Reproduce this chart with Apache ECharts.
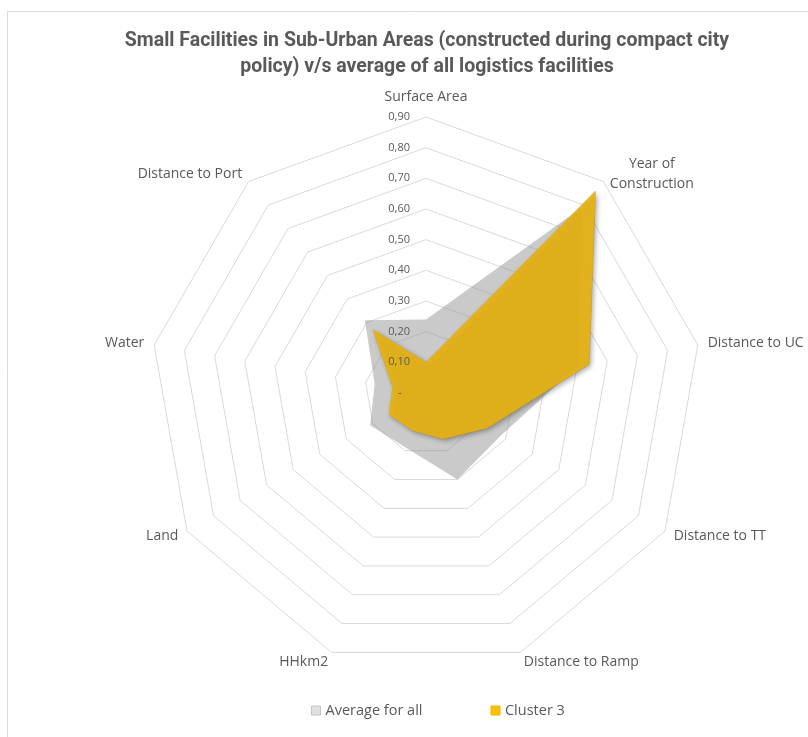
<!DOCTYPE html>
<html>
<head>
<meta charset="utf-8">
<script src="https://cdn.jsdelivr.net/npm/echarts@6/dist/echarts.min.js"></script>
<style>
  html, body { margin: 0; padding: 0; background: #fff; }
  #main { width: 808px; height: 737px; }
</style>
</head>
<body>
<div id="main"></div>
<script>
// indicators in the clockwise order of the original chart
let indicators = ["Surface Area", "Year of Construction", "Distance to UC", "Distance to TT",
  "Distance to Ramp", "HHkm2", "Land", "Water", "Distance to Port"];
let averageForAll = [0.24, 0.79, 0.5, 0.28, 0.3, 0.19, 0.21, 0.17, 0.31];
let cluster3 = [0.1, 0.86, 0.54, 0.23, 0.16, 0.13, 0.14, 0.11, 0.27];
let seriesNames = ["Average for all", "Cluster 3"];
let ticks = [0, 0.1, 0.2, 0.3, 0.4, 0.5, 0.6, 0.7, 0.8, 0.9];

// echarts draws radar axes counter-clockwise, so flip the order after the first one
let order = [0].concat(indicators.map((d, i) => i).slice(1).reverse());
let pick = (arr) => order.map((i) => arr[i]);

let txt = "#595959";
let font = "Open Sans";

let myChart = echarts.init(document.getElementById("main"), null, { renderer: "canvas" });

let option = {
  animation: false,
  title: {
    text: "Small Facilities in Sub-Urban Areas (constructed during compact city\npolicy) v/s average of all logistics facilities",
    left: 427,
    textAlign: "center",
    top: 28,
    padding: 0,
    textStyle: {
      color: txt,
      fontFamily: "Roboto",
      fontWeight: "bold",
      fontSize: 19.5,
      lineHeight: 26,
    },
  },
  graphic: [
    {
      type: "rect",
      shape: { x: 7.5, y: 11.5, width: 830, height: 760 },
      style: { fill: null, stroke: "#d9d9d9", lineWidth: 1 },
      silent: true,
    },
  ],
  legend: {
    left: 306,
    top: 698,
    itemWidth: 9,
    itemHeight: 9,
    itemGap: 68,
    textStyle: { color: txt, fontFamily: font, fontSize: 14.5 },
    data: [
      { name: seriesNames[0], icon: "rect", itemStyle: { color: "#e0e0e0", borderColor: "#c4c4c4", borderWidth: 1 } },
      { name: seriesNames[1], icon: "rect", itemStyle: { color: "#ffc000", borderColor: "#f0b400", borderWidth: 1 } },
    ],
  },
  // tick labels of the first (top) axis
  grid: { left: 426, top: 117, height: 276, width: 10 },
  xAxis: { show: false, type: "value" },
  yAxis: {
    type: "value",
    min: ticks[0],
    max: ticks[ticks.length - 1],
    interval: 0.1,
    z: 10,
    axisLine: { show: false },
    axisTick: { show: false },
    splitLine: { show: false },
    axisLabel: {
      margin: 16,
      color: txt,
      fontFamily: font,
      fontSize: 11,
      formatter: (v) => (Math.abs(v) < 1e-9 ? "-   " : v.toFixed(2).replace(".", ",")),
    },
  },
  radar: {
    center: [426, 393],
    radius: 276,
    startAngle: 90,
    shape: "polygon",
    splitNumber: 9,
    nameGap: 10,
    indicator: pick(indicators).map((n) => ({ name: n, min: 0, max: 0.9 })),
    axisName: {
      color: txt,
      fontFamily: font,
      fontSize: 14,
      formatter: (n) =>
        n === "Year of Construction" ? "{c|Year of}\n{c|Construction}" : "{c|" + n + "}",
      rich: {
        c: { align: "center", color: txt, fontFamily: font, fontSize: 14, lineHeight: 20 },
      },
    },
    axisLine: { show: false },
    axisTick: { show: false },
    axisLabel: { show: false },
    splitArea: { show: false },
    splitLine: { lineStyle: { color: "#d9d9d9", width: 1 } },
  },
  series: [
    {
      type: "radar",
      symbol: "none",
      z: 2,
      data: [
        {
          name: seriesNames[0],
          value: pick(averageForAll),
          itemStyle: { color: "#c9c9c9" },
          lineStyle: { width: 0, color: "#c0c0c0" },
          areaStyle: { color: "rgba(150,150,150,0.5)", opacity: 1 },
        },
        {
          name: seriesNames[1],
          value: pick(cluster3),
          itemStyle: { color: "#ffc000" },
          lineStyle: { width: 0.5, color: "#e2ae14" },
          areaStyle: {
            color: "rgba(228,177,22,0.95)",
            opacity: 1,
            shadowBlur: 5,
            shadowColor: "rgba(0,0,0,0.35)",
            shadowOffsetX: 2,
            shadowOffsetY: 2,
          },
        },
      ],
    },
  ],
};

myChart.setOption(option);
</script>
</body>
</html>
